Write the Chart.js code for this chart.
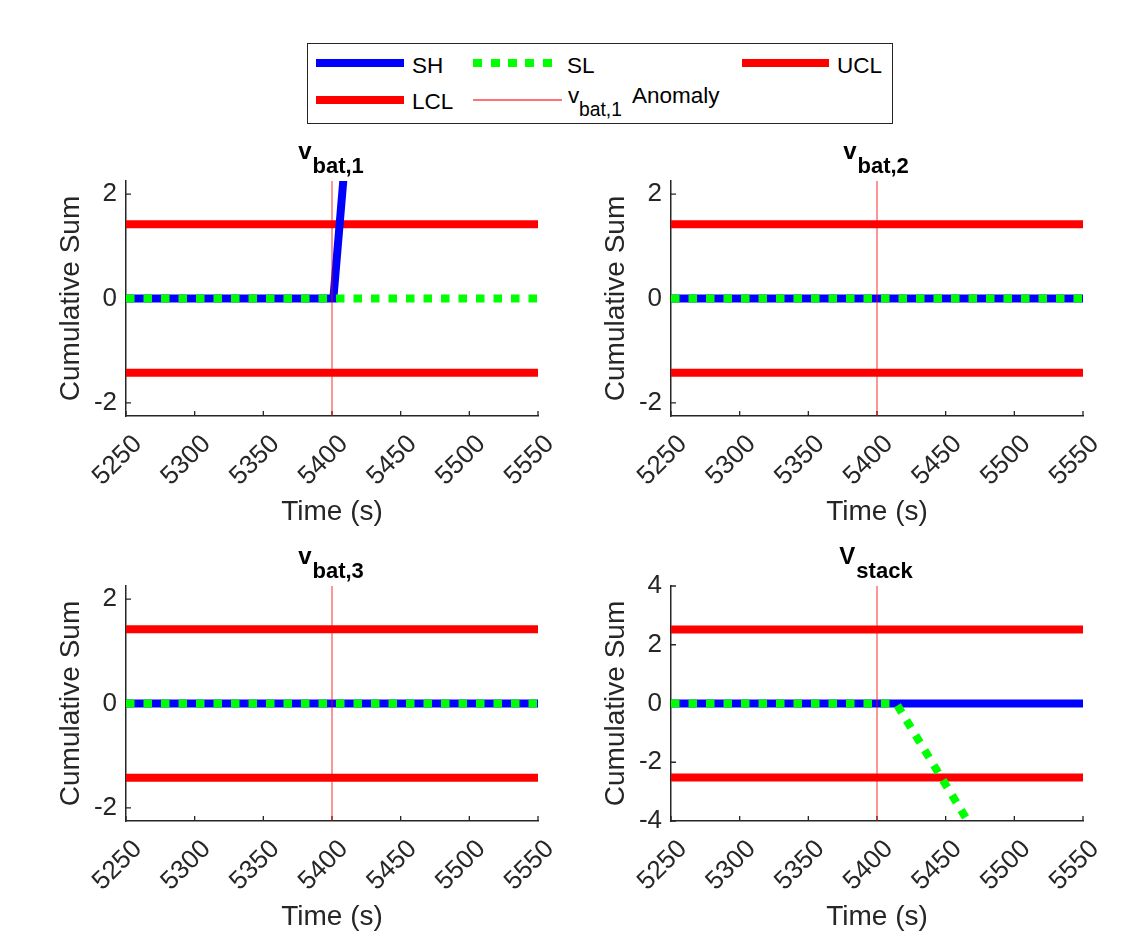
<!DOCTYPE html>
<html>
<head>
<meta charset="utf-8">
<script src="https://cdn.jsdelivr.net/npm/chart.js@4.4.0/dist/chart.umd.min.js"></script>
<style>
  body { margin: 0; background: #fff; width: 1148px; height: 947px; position: relative; overflow: hidden;
         font-family: "Liberation Sans", Arial, Helvetica, sans-serif; }
  canvas { position: absolute; }
  #legendBox { position: absolute; left: 307px; top: 43px; width: 584px; height: 79px; border: 1.5px solid #262626; }
  .sw { position: absolute; height: 8px; }
  .lt { position: absolute; font-size: 22.5px; line-height: 1; color: #000; white-space: nowrap; }
  .sub { font-size: 19.3px; }
</style>
</head>
<body>
<div id="legendBox"></div>
<div class="sw" style="left:316px;top:59px;width:88px;background:#0000ff"></div>
<span class="lt" style="left:412px;top:54.5px">SH</span>
<div class="sw" style="left:473px;top:59px;width:79px;background:repeating-linear-gradient(90deg,#00ff00 0 9px,transparent 9px 17.5px)"></div>
<span class="lt" style="left:567px;top:54.5px">SL</span>
<div class="sw" style="left:742px;top:59px;width:87px;background:#ff0000"></div>
<span class="lt" style="left:837px;top:54.5px">UCL</span>
<div class="sw" style="left:316px;top:96px;width:88px;background:#ff0000"></div>
<span class="lt" style="left:412px;top:91px">LCL</span>
<div class="sw" style="left:473px;top:99px;width:89px;height:1.5px;background:rgba(255,0,0,0.55)"></div>
<span class="lt" style="left:568px;top:85px">v</span>
<span class="lt sub" style="left:579px;top:99.7px">bat,1</span>
<span class="lt" style="left:632px;top:85px">Anomaly</span>

<canvas id="c0"></canvas>
<canvas id="c1"></canvas>
<canvas id="c2"></canvas>
<canvas id="c3"></canvas>

<script>
// data
const timeMin = 5250, timeMax = 5550, timeStep = 50;
const panelMain = ["v", "v", "v", "V"];
const panelSub = ["bat,1", "bat,2", "bat,3", "stack"];
const yLimit = [2.25, 2.25, 2.25, 4];
const controlLimit = [1.42, 1.42, 1.42, 2.52];
const anomalyTime = 5400;

// SH / SL cumulative sums (time, value) per panel
const shTime = [[5250, 5401, 5409], [5250, 5550], [5250, 5550], [5250, 5550]];
const shValue = [[0, 0, 2.5], [0, 0], [0, 0], [0, 0]];
const slTime = [[5250, 5550], [5250, 5550], [5250, 5550], [5250, 5414, 5470]];
const slValue = [[0, 0], [0, 0], [0, 0], [0, 0, -4.3]];

// layout: chart area of each panel on the page
const frames = [
  { left: 126, top: 181, right: 538, bottom: 416 },
  { left: 671, top: 181, right: 1083, bottom: 416 },
  { left: 126, top: 586, right: 538, bottom: 821 },
  { left: 671, top: 586, right: 1083, bottom: 821 }
];

const FONT = '"Liberation Sans", Arial, Helvetica, sans-serif';
const AXIS = '#262626';

const pts = (ts, vs) => ts.map((t, k) => ({ x: t, y: vs[k] }));

// inward tick marks like MATLAB
const innerTicks = {
  id: 'innerTicks',
  beforeDatasetsDraw(chart) {
    const { ctx, chartArea: a, scales: { x, y } } = chart;
    ctx.save();
    ctx.strokeStyle = AXIS;
    ctx.lineWidth = 1.3;
    ctx.beginPath();
    x.ticks.forEach(t => {
      const px = x.getPixelForValue(t.value);
      ctx.moveTo(px, a.bottom); ctx.lineTo(px, a.bottom - 5);
    });
    y.ticks.forEach(t => {
      const py = y.getPixelForValue(t.value);
      ctx.moveTo(a.left, py); ctx.lineTo(a.left + 5, py);
    });
    ctx.stroke();
    ctx.restore();
  }
};

// title with subscript
const panelTitle = {
  id: 'panelTitle',
  afterDraw(chart, args, opts) {
    const { ctx, chartArea: a } = chart;
    ctx.save();
    ctx.fillStyle = '#000';
    ctx.textBaseline = 'alphabetic';
    ctx.textAlign = 'left';
    ctx.font = 'bold 24px ' + FONT;
    const w1 = ctx.measureText(opts.main).width;
    ctx.font = 'bold 22px ' + FONT;
    const w2 = ctx.measureText(opts.sub).width;
    const x0 = (a.left + a.right) / 2 - (w1 + w2 + 1) / 2 - 1;
    ctx.font = 'bold 24px ' + FONT;
    ctx.fillText(opts.main, x0, a.top - 22);
    ctx.font = 'bold 22px ' + FONT;
    ctx.fillText(opts.sub, x0 + w1 + 1, a.top - 8);
    ctx.restore();
  }
};

function makePanel(i) {
  const f = frames[i];
  const cv = document.getElementById('c' + i);
  const w = f.right - f.left + 140, h = f.bottom - f.top + 175;
  cv.width = w; cv.height = h;
  cv.style.left = (f.left - 100) + 'px';
  cv.style.top = (f.top - 50) + 'px';
  cv.style.width = w + 'px'; cv.style.height = h + 'px';

  const lim = controlLimit[i], yl = yLimit[i];
  const common = { pointRadius: 0, tension: 0, borderCapStyle: 'butt', clip: 0, fill: false };

  new Chart(cv, {
    type: 'line',
    data: {
      datasets: [
        { ...common, label: 'Anomaly', data: [{ x: anomalyTime, y: -yl }, { x: anomalyTime, y: yl }],
          borderColor: 'rgba(255,0,0,0.55)', borderWidth: 1.5, order: 0 },
        { ...common, label: 'SL', data: pts(slTime[i], slValue[i]),
          borderColor: '#00ff00', borderWidth: 8, borderDash: [8.5, 9], order: 1 },
        { ...common, label: 'SH', data: pts(shTime[i], shValue[i]),
          borderColor: '#0000ff', borderWidth: 8, order: 2 },
        { ...common, label: 'UCL', data: [{ x: timeMin, y: lim }, { x: timeMax, y: lim }],
          borderColor: '#ff0000', borderWidth: 8, order: 3 },
        { ...common, label: 'LCL', data: [{ x: timeMin, y: -lim }, { x: timeMax, y: -lim }],
          borderColor: '#ff0000', borderWidth: 8, order: 4 }
      ]
    },
    options: {
      responsive: false,
      animation: false,
      devicePixelRatio: 1,
      events: [],
      layout: { padding: { left: 0, top: 50, right: 40, bottom: 5 } },
      plugins: {
        legend: { display: false },
        tooltip: { enabled: false },
        panelTitle: { main: panelMain[i], sub: panelSub[i] }
      },
      scales: {
        x: {
          type: 'linear', min: timeMin, max: timeMax,
          afterFit: s => { s.height = 120; },
          grid: { display: false, drawTicks: false },
          border: { display: true, color: AXIS, width: 1.5 },
          ticks: { stepSize: timeStep, autoSkip: false, minRotation: 45, maxRotation: 45,
                   padding: 13, labelOffset: 12,
                   color: AXIS, font: { size: 26, family: FONT }, callback: v => String(v) },
          title: { display: true, text: 'Time (s)', color: AXIS, font: { size: 28, family: FONT },
                   padding: { top: 0, bottom: 7.2 } }
        },
        y: {
          type: 'linear', min: -yl, max: yl,
          afterFit: s => { s.width = 100; },
          grid: { display: false, drawTicks: false },
          border: { display: true, color: AXIS, width: 1.5 },
          ticks: { stepSize: 2, includeBounds: false, padding: 9,
                   color: AXIS, font: { size: 26, family: FONT }, callback: v => String(v) },
          title: { display: true, text: 'Cumulative Sum', color: AXIS, font: { size: 28, family: FONT },
                   padding: { top: 28.2, bottom: 0 } }
        }
      }
    },
    plugins: [innerTicks, panelTitle]
  });
}

[0, 1, 2, 3].forEach(makePanel);
</script>
</body>
</html>
